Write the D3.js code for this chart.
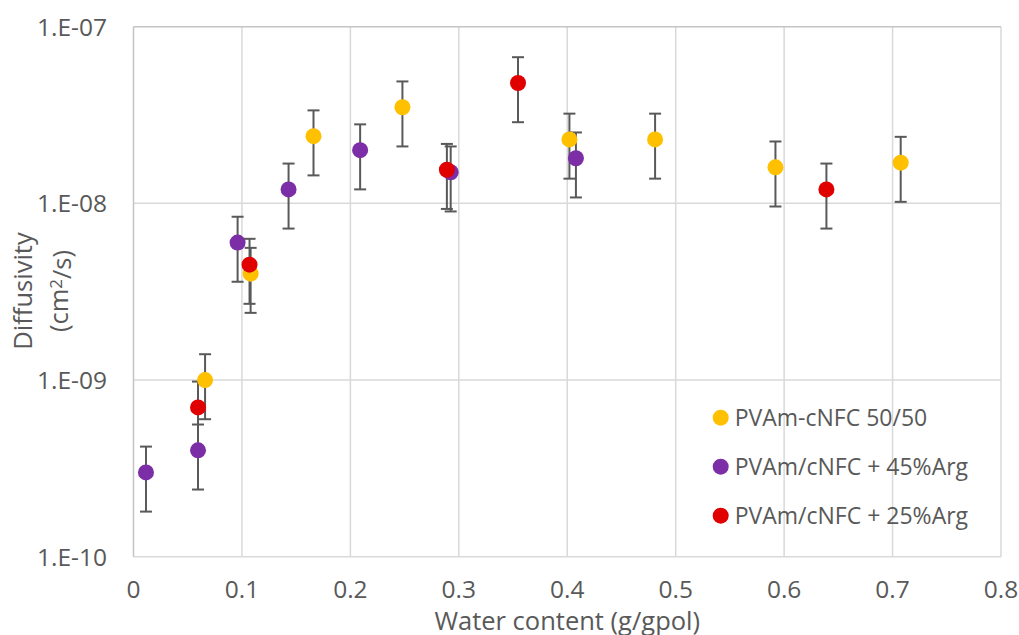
<!DOCTYPE html>
<html>
<head>
<meta charset="utf-8">
<script src="https://cdn.jsdelivr.net/npm/d3@7"></script>
<style>
  body { margin: 0; background: #fff; }
  text { font-family: "Open Sans", sans-serif; fill: #595959; }
</style>
</head>
<body>
<script>
// values; error bars are +/- 40% of each value
let seriesNames = ["PVAm-cNFC 50/50", "PVAm/cNFC + 45%Arg", "PVAm/cNFC + 25%Arg"];
let colors = ["#ffc000", "#7b2ea5", "#e00000"];

let yellowX = [0.066, 0.108, 0.166, 0.248, 0.402, 0.481, 0.592, 0.7075];
let yellowY = [1e-9, 4e-9, 2.4e-8, 3.5e-8, 2.3e-8, 2.3e-8, 1.6e-8, 1.7e-8];

let purpleX = [0.0115, 0.0595, 0.096, 0.143, 0.209, 0.2925, 0.408];
let purpleY = [3e-10, 4e-10, 6e-9, 1.2e-8, 2e-8, 1.5e-8, 1.8e-8];

let redX = [0.0595, 0.107, 0.289, 0.3546, 0.639];
let redY = [7e-10, 4.5e-9, 1.55e-8, 4.8e-8, 1.2e-8];

let errFrac = 0.4;

let xTicks = [0, 0.1, 0.2, 0.3, 0.4, 0.5, 0.6, 0.7, 0.8];
let yTicks = [1e-10, 1e-9, 1e-8, 1e-7];
let yTickLabels = ["1.E-10", "1.E-09", "1.E-08", "1.E-07"];

let width = 1019;
let height = 635;
let margin = {left: 133.5, right: 18, top: 26.7, bottom: 78.3};
let tickFs = "24.5px";
let titleFs = "25.5px";
let legendFs = "23px";

let svg = d3.select("body").append("svg")
    .attr("width", width)
    .attr("height", height);

let x = d3.scaleLinear()
    .domain([0, 0.8])
    .range([margin.left, width - margin.right]);

let y = d3.scaleLog()
    .domain([1e-10, 1e-7])
    .range([height - margin.bottom, margin.top]);

// gridlines
svg.selectAll(".vgrid")
    .data(xTicks.slice(1))
    .join("line")
    .attr("class", "vgrid")
    .attr("x1", d => x(d)).attr("x2", d => x(d))
    .attr("y1", y(1e-10)).attr("y2", y(1e-7))
    .attr("stroke", "#d9d9d9")
    .attr("stroke-width", 1.5);

svg.selectAll(".hgrid")
    .data(yTicks)
    .join("line")
    .attr("class", "hgrid")
    .attr("x1", x(0)).attr("x2", x(0.8))
    .attr("y1", d => y(d)).attr("y2", d => y(d))
    .attr("stroke", (d, i) => i == yTicks.length - 1 ? "#c4c4c4" : "#d9d9d9")
    .attr("stroke-width", 1.5);

// left axis line
svg.append("line")
    .attr("x1", x(0)).attr("x2", x(0))
    .attr("y1", y(1e-10)).attr("y2", y(1e-7))
    .attr("stroke", "#c4c4c4")
    .attr("stroke-width", 1.5);

// tick labels
svg.selectAll(".ylab")
    .data(yTicks)
    .join("text")
    .attr("class", "ylab")
    .attr("x", 107)
    .attr("y", d => y(d))
    .attr("dy", "0.36em")
    .attr("text-anchor", "end")
    .style("font-size", tickFs)
    .text((d, i) => yTickLabels[i]);

svg.selectAll(".xlab")
    .data(xTicks)
    .join("text")
    .attr("class", "xlab")
    .attr("x", d => x(d))
    .attr("y", 589.5)
    .attr("dy", "0.36em")
    .attr("text-anchor", "middle")
    .style("font-size", tickFs)
    .text(d => d3.format("")(d));

// axis titles
svg.append("text")
    .attr("x", (x(0) + x(0.8)) / 2)
    .attr("y", 620.5)
    .attr("dy", "0.36em")
    .attr("text-anchor", "middle")
    .style("font-size", titleFs)
    .text("Water content (g/gpol)");

let ytitle = svg.append("text")
    .attr("transform", "translate(0,291) rotate(-90)")
    .attr("text-anchor", "middle")
    .style("font-size", titleFs);
ytitle.append("tspan").attr("x", 0).attr("y", 23).attr("dy", "0.36em").text("Diffusivity");
let t2 = ytitle.append("tspan").attr("x", 0).attr("y", 59).attr("dy", "0.36em").text("(cm");
t2.append("tspan").attr("dy", "-0.35em").style("font-size", "17px").text("2");
t2.append("tspan").attr("dy", "0.35em").text("/s)");

let series = [
    {name: seriesNames[0], color: colors[0], pts: yellowX.map((v, i) => ({x: v, y: yellowY[i]}))},
    {name: seriesNames[1], color: colors[1], pts: purpleX.map((v, i) => ({x: v, y: purpleY[i]}))},
    {name: seriesNames[2], color: colors[2], pts: redX.map((v, i) => ({x: v, y: redY[i]}))}
];

let allPts = series.flatMap(s => s.pts);
let capW = 6;

let err = svg.append("g")
    .attr("stroke", "#595959")
    .attr("stroke-width", 2);

allPts.forEach(p => {
    let top = y(p.y * (1 + errFrac));
    let bot = y(p.y * (1 - errFrac));
    err.append("line").attr("x1", x(p.x)).attr("x2", x(p.x)).attr("y1", top).attr("y2", bot);
    err.append("line").attr("x1", x(p.x) - capW).attr("x2", x(p.x) + capW).attr("y1", top).attr("y2", top);
    err.append("line").attr("x1", x(p.x) - capW).attr("x2", x(p.x) + capW).attr("y1", bot).attr("y2", bot);
});

series.forEach(s => {
    svg.append("g").selectAll("circle")
        .data(s.pts)
        .join("circle")
        .attr("cx", d => x(d.x))
        .attr("cy", d => y(d.y))
        .attr("r", 8)
        .attr("fill", s.color);
});

// legend
let legend = svg.append("g")
    .attr("class", "legend")
    .attr("transform", "translate(720.7,417.7)");

legend.selectAll("circle")
    .data(series)
    .join("circle")
    .attr("cx", 0)
    .attr("cy", (d, i) => 49 * i)
    .attr("r", 8)
    .attr("fill", d => d.color);

legend.selectAll("text")
    .data(series)
    .join("text")
    .attr("x", 14)
    .attr("y", (d, i) => 49 * i)
    .attr("dy", "0.36em")
    .style("font-size", legendFs)
    .text(d => d.name);
</script>
</body>
</html>
